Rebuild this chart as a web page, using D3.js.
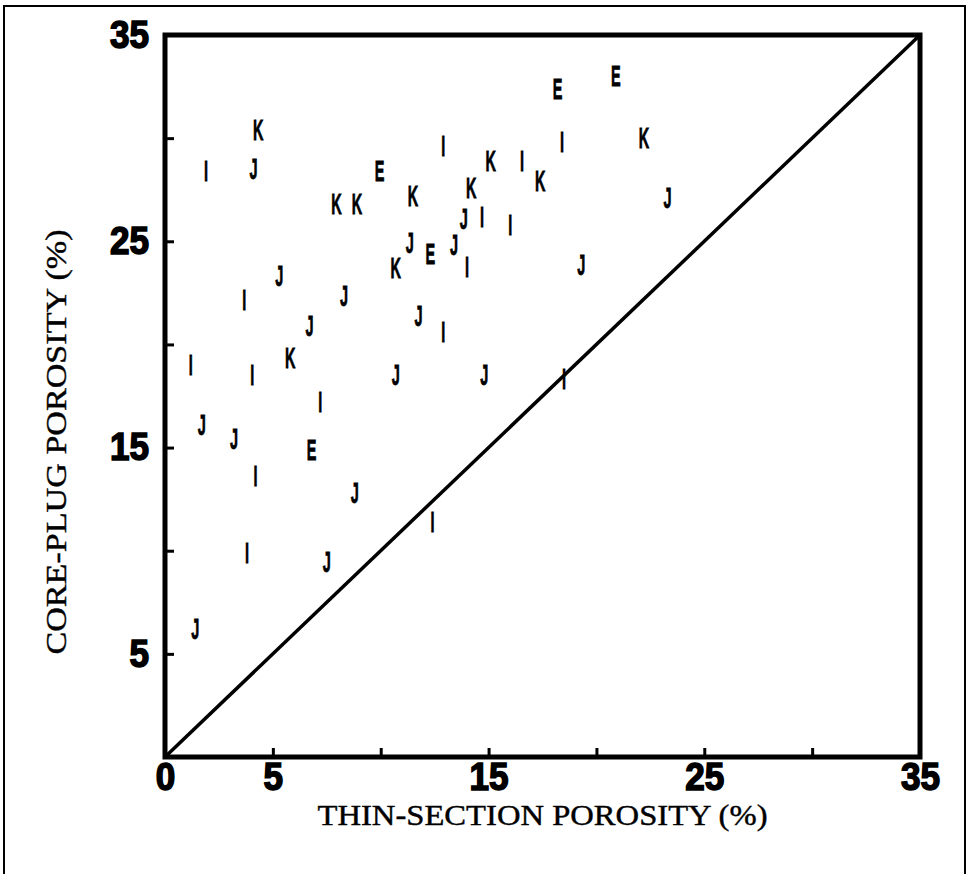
<!DOCTYPE html>
<html>
<head>
<meta charset="utf-8">
<script src="https://cdn.jsdelivr.net/npm/d3@7/dist/d3.min.js"></script>
<style>
  html, body { margin: 0; padding: 0; background: #fff; }
  svg { display: block; }
</style>
</head>
<body>
<div id="chart"></div>
<script>
'use strict';

// data (thin-section %, core-plug %)
var seriesE = [[9.95, 28.4], [18.2, 32.4], [20.9, 33.0], [12.3, 24.4], [6.8, 14.9]];
var seriesI = [[1.9, 28.4], [12.9, 29.6], [16.55, 28.9], [18.4, 29.8], [14.7, 26.2], [16.0, 25.8],
               [14.0, 23.75], [3.67, 22.15], [12.9, 20.6], [1.2, 19.0], [4.05, 18.5], [18.5, 18.3],
               [7.2, 17.2], [4.2, 13.6], [12.4, 11.4], [3.8, 9.9]];
var seriesJ = [[4.1, 28.5], [23.3, 27.1], [13.85, 26.1], [11.35, 24.9], [13.4, 24.8], [5.3, 23.3],
               [19.3, 23.85], [8.3, 22.35], [11.75, 21.4], [6.7, 20.9], [10.7, 18.5], [14.8, 18.5],
               [1.7, 16.1], [3.2, 15.4], [8.8, 12.8], [7.5, 9.45], [1.4, 6.2]];
var seriesK = [[4.32, 30.4], [15.1, 28.9], [22.2, 30.0], [17.4, 27.9], [11.5, 27.2], [14.2, 27.6],
               [7.95, 26.8], [8.9, 26.8], [10.7, 23.7], [5.8, 19.35]];
var letters = ['E', 'I', 'J', 'K'];
var tickValues = [0, 5, 10, 15, 20, 25, 30, 35];
var xTickLabels = [0, 5, 15, 25, 35];
var yTickLabels = [5, 15, 25, 35];
var oneToOne = [[0, 0], [35, 35]];
var xTitle = 'THIN-SECTION POROSITY (%)';
var yTitle = 'CORE-PLUG POROSITY (%)';

var W = 967, H = 874;
var svg, x, y;

function setup(){
    svg = d3.select('#chart').append('svg')
        .attr('width', W)
        .attr('height', H);
    svg.append('rect')
        .attr('width', W).attr('height', H)
        .style('fill', '#fff');

    x = d3.scaleLinear().domain([0, 35]).range([165, 920]);
    y = d3.scaleLinear().domain([0, 35]).range([757, 35]);
    draw();
}

// heavy, narrow digits like the original print
function styleAxis(g){
    g.select('.domain').remove();
    g.selectAll('.tick line')
        .style('stroke', '#000')
        .style('stroke-width', 3);
    g.selectAll('.tick text')
        .attr('textLength', function(){ return this.textContent.length * 19.5; })
        .attr('lengthAdjust', 'spacingAndGlyphs')
        .style('font-family', '"Liberation Sans", Arial, sans-serif')
        .style('font-weight', 'bold')
        .style('font-size', '38px')
        .style('fill', '#000')
        .style('stroke', '#000')
        .style('stroke-width', 1.6);
}

function draw(){
    var points, yAxis, xAxis;

    // outer border
    svg.append('rect')
        .attr('x', 4).attr('y', 6)
        .attr('width', 961).attr('height', 900)
        .style('fill', 'none')
        .style('stroke', '#000')
        .style('stroke-width', 2);

    // 1:1 line
    svg.append('path')
        .datum(oneToOne)
        .attr('d', d3.line().x(function(d){ return x(d[0]); }).y(function(d){ return y(d[1]); }))
        .style('fill', 'none')
        .style('stroke', '#000')
        .style('stroke-width', 3.5);

    yAxis = d3.axisLeft(y)
        .tickValues(tickValues.filter(function(d){ return d > 0; }))
        .tickSize(-9)
        .tickPadding(16)
        .tickFormat(function(d){ return yTickLabels.indexOf(d) >= 0 ? d : ''; });
    svg.append('g')
        .attr('transform', 'translate(' + x(0) + ',0)')
        .call(yAxis)
        .call(styleAxis);

    xAxis = d3.axisBottom(x)
        .tickValues(tickValues)
        .tickSize(-9)
        .tickPadding(6)
        .tickFormat(function(d){ return xTickLabels.indexOf(d) >= 0 ? d : ''; });
    svg.append('g')
        .attr('transform', 'translate(0,' + y(0) + ')')
        .call(xAxis)
        .call(styleAxis);

    // plot frame
    svg.append('rect')
        .attr('x', x(0)).attr('y', y(35))
        .attr('width', x(35) - x(0))
        .attr('height', y(0) - y(35))
        .style('fill', 'none')
        .style('stroke', '#000')
        .style('stroke-width', 5);

    points = [];
    [seriesE, seriesI, seriesJ, seriesK].forEach(function(s, i){
        s.forEach(function(d){
            points.push({ letter: letters[i], tx: d[0], cp: d[1] });
        });
    });

    svg.append('g').selectAll('text.pt')
        .data(points)
        .enter().append('text')
        .attr('class', 'pt')
        .attr('transform', function(d){
            return 'translate(' + x(d.tx) + ',' + (y(d.cp) + 10) + ') scale(0.5,1)';
        })
        .attr('text-anchor', 'middle')
        .style('font-family', '"Liberation Sans", Arial, sans-serif')
        .style('font-weight', 'bold')
        .style('font-size', '29px')
        .style('fill', '#000')
        .style('stroke', '#000')
        .style('stroke-width', 0.8)
        .text(function(d){ return d.letter; });

    // axis titles
    svg.append('text')
        .attr('x', (x(0) + x(35)) / 2)
        .attr('y', 825)
        .attr('text-anchor', 'middle')
        .attr('textLength', 450)
        .attr('lengthAdjust', 'spacingAndGlyphs')
        .style('font-family', '"Liberation Serif", "Times New Roman", serif')
        .style('font-size', '29px')
        .style('fill', '#000')
        .style('stroke', '#000')
        .style('stroke-width', 0.4)
        .text(xTitle);

    svg.append('text')
        .attr('transform', 'translate(66,442) rotate(-90)')
        .attr('text-anchor', 'middle')
        .attr('textLength', 425)
        .attr('lengthAdjust', 'spacingAndGlyphs')
        .style('font-family', '"Liberation Serif", "Times New Roman", serif')
        .style('font-size', '30px')
        .style('fill', '#000')
        .style('stroke', '#000')
        .style('stroke-width', 0.4)
        .text(yTitle);
}

setup();
</script>
</body>
</html>
